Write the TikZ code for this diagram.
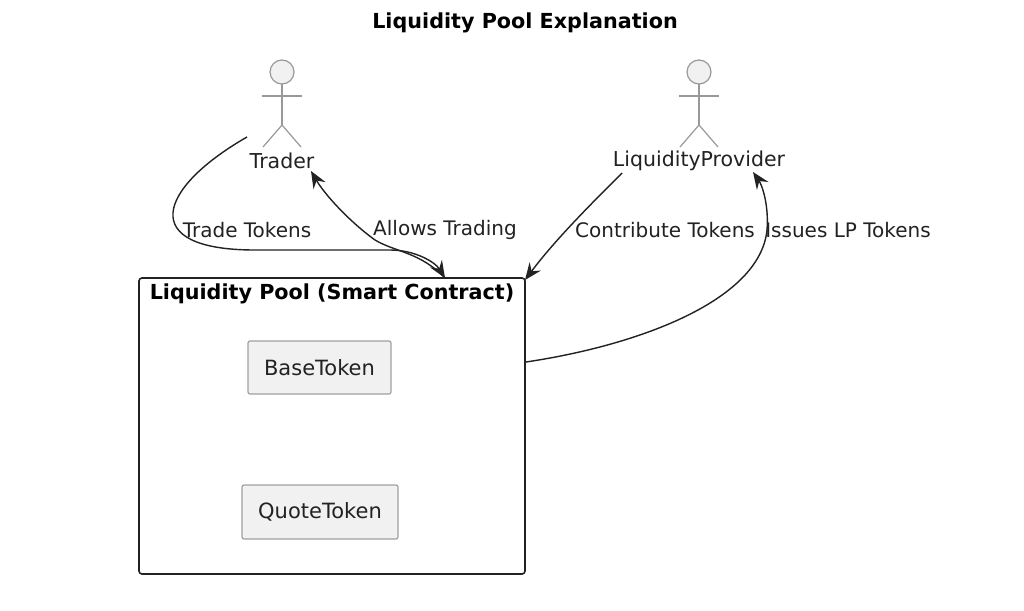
\documentclass[tikz,border=0pt]{standalone}
\usepackage{fontspec}
\setmainfont{DejaVu Sans}
\usetikzlibrary{arrows.meta}
\definecolor{ink}{HTML}{222222}
\definecolor{actorline}{HTML}{999999}
\definecolor{fillgray}{HTML}{F1F1F1}
\definecolor{compline}{HTML}{A0A0A0}
\tikzset{
  lbl/.style={font=\fontsize{20}{24}\selectfont, text=ink, inner sep=0pt},
  actorlbl/.style={font=\fontsize{20.5}{24}\selectfont, text=ink, inner sep=0pt},
  boldlbl/.style={font=\fontsize{20.7}{24}\selectfont\bfseries, text=black, inner sep=0pt},
  comp/.style={draw=compline, fill=fillgray, line width=1.2pt, rounded corners=2pt, font=\fontsize{21}{24}\selectfont, text=ink},
  conn/.style={draw=ink, line width=1.4pt, -{Stealth[length=17pt,width=14pt,inset=6pt]}},
  actorstroke/.style={draw=actorline, line width=1.2pt}
}
\begin{document}
\begin{tikzpicture}[x=1pt,y=-1pt]
\useasboundingbox (0,0) rectangle (1024,610);
\fill[white] (0,0) rectangle (1024,610);
% title
\node[boldlbl] (title) at (525,23) {Liquidity Pool Explanation};
% actors
\foreach \ax in {282, 699} {
  \draw[actorstroke, fill=fillgray] (\ax,72) circle (12);
  \draw[actorstroke] (\ax,84) -- (\ax,125);
  \draw[actorstroke] (\ax-20,96) -- (\ax+20,96);
  \draw[actorstroke] (\ax-19,147) -- (\ax,125) -- (\ax+19,147);
}
\node[actorlbl] (trader) at (282,161) {Trader};
\node[actorlbl] (lp) at (699,161) {LiquidityProvider};
% pool
\draw[ink, line width=1.6pt, rounded corners=3pt] (139,278) rectangle (525,574);
\node[boldlbl] (pool) at (332,294) {Liquidity Pool (Smart Contract)};
\node[comp, minimum width=143pt, minimum height=53pt] (base) at (319.5,367.5) {BaseToken};
\node[comp, minimum width=156pt, minimum height=54pt] (quote) at (320,512) {QuoteToken};
% connector end points
\coordinate (tS) at (247,137);
\coordinate (poolTop) at (445,278);
\coordinate (tArr) at (311,171);
\coordinate (lpS) at (622,173);
\coordinate (poolCorner) at (525,280);
\coordinate (poolRight) at (526,362);
\coordinate (lpArr) at (753,172);
% connectors
\draw[conn] (tS) .. controls (158,188) and (136,250) .. (255,250) -- (390,250) .. controls (415,250) and (435,262) .. (poolTop);
\draw[conn] (poolTop) .. controls (420,252) and (395,252) .. (375,240) .. controls (350,222) and (325,195) .. (tArr);
\draw[conn] (lpS) .. controls (590,205) and (555,240) .. (poolCorner);
\draw[conn] (poolRight) .. controls (640,345) and (760,300) .. (767,230) .. controls (769,205) and (762,185) .. (lpArr);
% labels
\node[lbl] (l1) at (247,230) {Trade Tokens};
\node[lbl] (l2) at (445,230) {Allows Trading};
\node[lbl] (l3) at (665,230) {Contribute Tokens};
\node[lbl] (l4) at (848,230) {Issues LP Tokens};
\end{tikzpicture}
\end{document}
